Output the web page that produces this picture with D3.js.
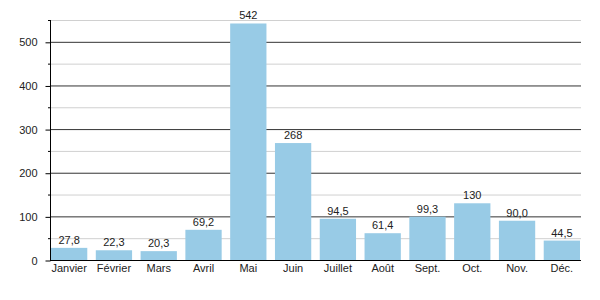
<!DOCTYPE html>
<html>
<head>
<meta charset="utf-8">
<script src="https://cdn.jsdelivr.net/npm/d3@7"></script>
<style>
  body { margin: 0; background: #fff; }
  svg text { font-family: "Liberation Sans", Arial, sans-serif; font-size: 11px; fill: #222; }
</style>
</head>
<body>
<div id="chart"></div>
<script>
// data
var months = ["Janvier", "Février", "Mars", "Avril", "Mai", "Juin",
              "Juillet", "Août", "Sept.", "Oct.", "Nov.", "Déc."];
var values = [27.8, 22.3, 20.3, 69.2, 542, 268, 94.5, 61.4, 99.3, 130, 90.0, 44.5];
var majorTicks = [0, 100, 200, 300, 400, 500];
var minorTicks = [50, 150, 250, 350, 450, 550];

var width = 600, height = 300;
var plotLeft = 50, plotRight = 581, plotTop = 20, plotBottom = 260;

var fr = d3.formatLocale({decimal: ",", thousands: " ", grouping: [3], currency: ["", " €"]});
var fmt = fr.format(".3r");

var svg = d3.select("#chart").append("svg")
    .attr("width", width)
    .attr("height", height);

var y = d3.scaleLinear().domain([0, 550]).range([plotBottom, plotTop]);
var x = d3.scaleBand().domain(months).range([plotLeft + 1, plotRight - 1])
    .paddingInner(0.19).paddingOuter(0);

// minor grid lines
svg.append("g").selectAll("line").data(minorTicks).enter().append("line")
    .attr("x1", plotLeft).attr("x2", plotRight)
    .attr("y1", function (d) { return y(d) + 0.5; })
    .attr("y2", function (d) { return y(d) + 0.5; })
    .style("stroke", "#d0d0d0");

// major grid lines
svg.append("g").selectAll("line").data(majorTicks.slice(1)).enter().append("line")
    .attr("x1", plotLeft).attr("x2", plotRight)
    .attr("y1", function (d) { return y(d) + 0.5; })
    .attr("y2", function (d) { return y(d) + 0.5; })
    .style("stroke", "#333");

// bars
svg.append("g").selectAll("rect").data(values).enter().append("rect")
    .attr("x", function (d, i) { return x(months[i]); })
    .attr("y", function (d) { return y(d); })
    .attr("width", x.bandwidth())
    .attr("height", function (d) { return plotBottom - y(d); })
    .attr("fill", "#98cbe6");

// value labels
svg.append("g").selectAll("text").data(values).enter().append("text")
    .attr("x", function (d, i) { return x(months[i]) + x.bandwidth() / 2; })
    .attr("y", function (d) { return y(d) - 4; })
    .attr("text-anchor", "middle")
    .text(function (d) { return fmt(d); });

// y axis
var yAxis = d3.axisLeft(y).tickValues(majorTicks).tickSize(5).tickFormat(d3.format("d"));
var yAxisEl = svg.append("g")
    .attr("transform", "translate(" + (plotLeft + 0.5) + ",0.5)")
    .call(yAxis);
yAxisEl.select(".domain").attr("d", "M0," + (plotTop - 0.5) + "V" + (plotBottom - 0.5));
yAxisEl.selectAll(".tick line").style("stroke", "#000");
yAxisEl.selectAll(".tick text").attr("x", -13).style("font-size", "11px").style("font-family", null);

// minor ticks on axis
svg.append("g").selectAll("line").data(minorTicks).enter().append("line")
    .attr("x1", plotLeft - 2).attr("x2", plotLeft)
    .attr("y1", function (d) { return y(d) + 0.5; })
    .attr("y2", function (d) { return y(d) + 0.5; })
    .style("stroke", "#000");

// x axis
var xAxis = d3.axisBottom(x).tickSize(0).tickSizeOuter(0);
var xAxisEl = svg.append("g")
    .attr("transform", "translate(0," + (plotBottom + 0.5) + ")")
    .call(xAxis);
xAxisEl.select(".domain").attr("d", "M" + plotLeft + ",0H" + plotRight).style("stroke", "#000");
xAxisEl.selectAll(".tick text").attr("dy", "0.71em").attr("y", 4)
    .style("font-size", "11px").style("font-family", null);
</script>
</body>
</html>
